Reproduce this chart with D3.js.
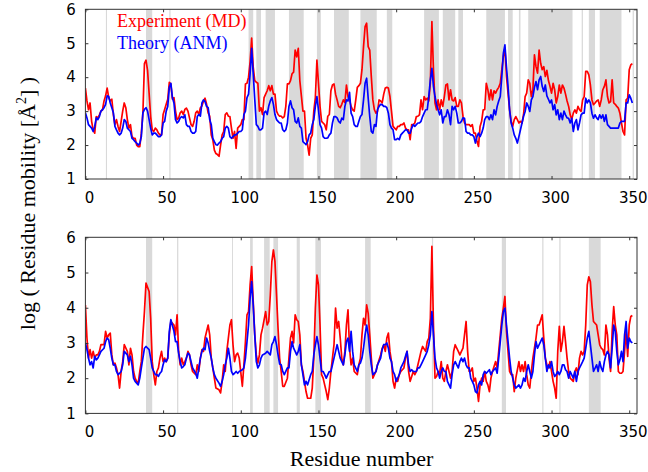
<!DOCTYPE html>
<html lang="en">
<head>
  <meta charset="UTF-8" />
  <title>Residue mobility: experiment vs theory</title>
  <script src="https://d3js.org/d3.v7.min.js"></script>
  <style>
    body {
      margin: 0;
      padding: 0;
      background-color: #fff;
    }

    svg {
      display: block;
    }

    .tick text {
      font-family: "DejaVu Sans", sans-serif;
      font-size: 15px;
      fill: #000;
    }

    .tick line {
      stroke: #333;
    }

    .title {
      font-family: "Liberation Serif", "Times New Roman", serif;
      font-size: 22px;
      fill: #000;
    }

    .legend {
      font-family: "Liberation Serif", "Times New Roman", serif;
      font-size: 18px;
    }
  </style>
</head>
<body>
  <svg width="648" height="472"></svg>

  <script>
    // x ticks / y ticks
    const xTicks = [0, 50, 100, 150, 200, 250, 300, 350];
    const yTicks = [1, 2, 3, 4, 5, 6];

    // grey bands, [first residue, last residue]
    const topBands = [
      [13.2, 13.9], [39, 43], [54, 54.8], [105, 108], [110, 113], [116, 122],
      [131, 140.5], [149, 151.5], [160, 169.5], [177, 187.5], [194, 197.5],
      [218, 227.5], [230, 238], [240, 243], [258, 270], [272, 275], [279, 280],
      [285, 313.5], [319.4, 320.2], [324, 328], [331, 345], [352.2, 353]
    ];
    const bottomBands = [
      [39, 43], [59, 59.8], [94.4, 95], [106, 107.7], [115, 118.6], [121, 124],
      [136, 138], [148, 151.6], [180, 183.6], [223, 223.8], [268, 270.7],
      [294, 294.8], [305, 305.8], [324, 331.6]
    ];

    // top panel, one value per residue (0..352)
    const topExperiment = [
      3.68, 3.3, 3.04, 3.24, 2.7, 2.45, 2.35, 2.84, 2.8, 2.89,
      3.0, 3.04, 3.3, 3.45, 3.68, 3.4, 3.3, 3.35, 2.9, 2.6,
      2.75, 2.55, 2.4, 2.7, 3.0, 3.24, 3.1, 2.75, 2.5, 2.6,
      2.25, 2.2, 2.2, 2.0, 1.95, 1.95, 2.35, 2.94, 4.4, 4.5,
      4.2, 3.53, 2.84, 2.45, 2.4, 2.5, 2.45, 2.35, 2.3, 2.3,
      2.9, 3.05, 3.2, 3.35, 3.85, 3.8, 3.35, 3.4, 3.0, 2.75,
      2.8, 2.95, 3.0, 2.9, 3.05, 3.09, 3.0, 2.8, 2.6, 2.55,
      2.7, 2.95, 3.0, 2.9, 3.1, 3.15, 3.3, 3.38, 3.2, 2.95,
      2.85, 2.3, 2.16, 1.85, 1.75, 1.72, 1.67, 2.0, 2.3, 2.4,
      2.9, 2.95, 2.85, 2.84, 2.5, 2.2, 2.4, 1.9, 2.5, 2.55,
      2.6, 2.75, 2.75, 3.8, 3.82, 4.0, 4.45, 5.15, 4.3, 3.9,
      3.85, 3.82, 3.0, 3.1, 2.9, 3.4, 3.5, 3.6, 3.75, 3.6,
      3.75, 3.5, 3.5, 3.0, 2.9, 2.85, 2.85, 2.8, 2.84, 3.15,
      3.8, 3.8, 3.9, 4.1, 4.15, 4.8, 4.6, 4.85, 3.9, 3.45,
      3.0, 3.0, 2.2, 2.0, 1.7, 2.2, 2.3, 3.0, 3.4, 4.5,
      3.82, 3.14, 2.7, 2.65, 2.6, 2.45, 2.85, 2.9, 3.6, 3.77,
      3.8, 3.5, 3.33, 3.14, 3.1, 3.2, 3.33, 3.25, 3.77, 3.43,
      3.33, 3.14, 3.04, 3.0, 3.33, 3.7, 3.75, 3.82, 4.22, 4.9,
      5.49, 5.59, 4.9, 4.8, 4.02, 3.33, 3.04, 2.94, 3.0, 3.33,
      3.3, 3.24, 3.5, 3.68, 3.7, 3.68, 3.43, 2.99, 2.55, 2.5,
      2.45, 2.55, 2.55, 2.6, 2.6, 2.65, 2.5, 2.45, 2.45, 2.16,
      2.6, 2.6, 2.65, 2.84, 2.85, 2.89, 3.33, 3.04, 3.43, 3.33,
      3.38, 3.3, 3.82, 5.64, 4.22, 3.24, 3.04, 3.33, 3.04, 3.33,
      3.14, 3.43, 3.77, 3.8, 3.33, 3.63, 3.33, 3.3, 3.4, 3.14,
      3.14, 3.33, 3.24, 2.85, 2.65, 2.6, 2.6, 2.6, 2.55, 2.6,
      2.35, 2.35, 2.11, 1.96, 2.55, 2.7, 3.04, 3.04, 3.82, 3.63,
      3.33, 3.63, 3.33, 3.6, 3.53, 3.63, 3.7, 3.82, 4.22, 4.61,
      4.85, 4.02, 3.53, 3.04, 2.7, 2.55, 2.75, 2.84, 2.75, 2.65,
      2.7, 2.65, 2.9, 3.43, 3.53, 3.92, 3.82, 3.43, 3.63, 4.66,
      4.31, 4.12, 4.8, 4.41, 4.22, 4.31, 4.02, 4.2, 3.9, 3.73,
      3.53, 3.82, 3.63, 3.24, 3.43, 3.77, 3.53, 3.77, 3.68, 3.5,
      3.3, 3.14, 2.89, 2.75, 2.94, 3.04, 2.94, 3.14, 3.04, 2.99,
      3.33, 3.43, 4.17, 4.17, 4.07, 3.77, 3.33, 3.19, 3.24, 3.3,
      3.33, 3.14, 3.33, 3.63, 3.73, 3.92, 3.43, 3.24, 3.28, 3.92,
      3.24, 3.2, 3.14, 3.09, 2.94, 2.65, 2.4, 2.3, 3.33, 3.38,
      4.22, 4.36, 4.4
    ];
    const topTheory = [
      2.95, 2.8, 2.6, 2.55, 2.5, 2.4, 2.55, 2.8, 2.75, 2.84,
      3.0, 3.04, 3.1, 3.2, 3.45, 3.43, 3.24, 3.1, 2.95, 2.55,
      2.45, 2.35, 2.3, 2.35, 2.5, 2.75, 2.7, 2.5, 2.45, 2.4,
      2.2, 2.16, 2.1, 2.06, 2.0, 2.05, 2.25, 2.95, 3.05, 3.1,
      3.0, 2.75, 2.5, 2.3, 2.35, 2.35, 2.3, 2.25, 2.25, 2.3,
      2.65, 2.7, 3.0, 3.14, 3.7, 3.82, 3.4, 3.24, 2.75, 2.65,
      2.7, 2.8, 2.84, 2.8, 2.89, 2.6, 2.55, 2.55, 2.4, 2.35,
      2.35, 2.4, 2.84, 2.9, 2.85, 3.24, 3.33, 3.28, 3.14, 3.1,
      2.75, 2.6, 2.2, 2.1, 2.01, 2.0, 2.06, 2.1, 2.2, 2.25,
      2.5, 2.55, 2.5, 2.25, 2.2, 2.25, 2.3, 2.3, 2.35, 2.4,
      2.4, 2.45, 2.9, 3.0, 3.4, 3.5, 4.1, 4.85, 4.1, 3.35,
      2.6, 2.55, 2.45, 2.45, 2.5, 2.95, 3.0, 2.9, 3.15, 3.3,
      3.4, 3.2, 2.9, 2.75, 2.7, 2.65, 2.65, 2.45, 2.4, 2.45,
      2.65, 3.14, 3.3, 3.1, 3.04, 2.7, 2.65, 2.8, 2.55, 2.5,
      2.1, 2.06, 2.01, 2.1, 2.3, 2.35, 2.6, 2.75, 3.14, 3.43,
      3.04, 2.6, 2.5, 2.25, 2.2, 2.2, 2.21, 2.3, 2.35, 2.65,
      2.84, 2.84, 2.8, 2.7, 2.65, 2.79, 2.75, 3.14, 3.33, 3.3,
      3.55, 2.94, 2.84, 2.6, 2.55, 2.55, 2.7, 2.84, 2.9, 3.33,
      3.82, 3.97, 3.38, 2.84, 2.4, 2.35, 2.6, 2.55, 3.04, 3.14,
      3.2, 3.19, 3.14, 3.14, 3.1, 2.94, 2.6, 2.5, 2.45, 2.16,
      2.16, 2.2, 2.16, 2.3, 2.35, 2.4, 2.45, 2.45, 2.35, 2.35,
      2.5, 2.6, 2.55, 2.6, 2.65, 2.65, 2.7, 2.84, 2.94, 3.04,
      3.04, 3.43, 3.92, 4.26, 3.73, 3.43, 3.19, 3.04, 2.89, 3.04,
      2.65, 2.84, 2.84, 3.04, 2.9, 2.6, 3.14, 3.04, 3.14, 2.94,
      2.65, 2.65, 2.7, 2.8, 2.79, 2.4, 2.35, 2.35, 2.3, 2.3,
      2.25, 2.06, 2.25, 2.35, 2.25, 2.35, 2.5, 2.75, 2.84, 2.84,
      2.75, 2.89, 2.75, 3.04, 2.89, 3.14, 3.3, 3.43, 4.02, 4.71,
      4.95, 4.3, 3.73, 3.04, 2.65, 2.5, 2.3, 2.2, 2.06, 2.25,
      2.45, 2.65, 2.85, 2.99, 3.24, 3.14, 2.99, 3.33, 3.43, 3.7,
      3.87, 3.63, 3.92, 4.02, 3.73, 3.58, 3.77, 3.45, 3.35, 3.24,
      3.33, 3.04, 3.19, 2.89, 3.04, 2.75, 2.94, 2.75, 3.0, 2.89,
      2.8, 2.79, 2.65, 2.79, 2.4, 2.65, 2.75, 2.45, 2.65, 2.89,
      2.94, 2.94, 3.38, 3.24, 3.33, 3.24, 2.94, 2.79, 2.89, 2.8,
      2.75, 2.89, 2.79, 2.89, 2.7, 2.89, 2.6, 2.55, 2.5, 2.5,
      2.5, 2.5, 2.5, 2.5, 2.65, 2.7, 2.7, 2.7, 3.24, 3.24,
      3.48, 3.38, 3.24
    ];

    // bottom panel, read at these residues
    const bottomResidues = [
      0, 1, 2, 3, 4, 5, 6, 7, 8, 9, 10, 12, 13, 14, 15, 16, 17, 18, 19, 20,
      21, 22, 23, 24, 25, 27, 28, 29, 30, 31, 32, 33, 34, 35, 36, 37, 38, 39, 41, 42,
      43, 44, 45, 46, 47, 48, 49, 50, 51, 52, 53, 54, 55, 57, 58, 59, 60, 61, 62, 63,
      64, 65, 66, 67, 68, 69, 71, 72, 73, 74, 75, 76, 77, 78, 79, 80, 81, 82, 83, 84,
      86, 87, 88, 89, 90, 91, 92, 93, 94, 95, 96, 97, 98, 99, 101, 102, 103, 104, 105, 106,
      107, 108, 109, 110, 111, 112, 113, 114, 116, 117, 118, 119, 120, 121, 122, 123, 124, 125, 126, 127,
      128, 130, 131, 132, 133, 134, 135, 136, 137, 138, 139, 140, 141, 142, 143, 145, 146, 147, 148, 149,
      150, 151, 152, 153, 154, 155, 156, 157, 158, 160, 161, 162, 163, 164, 165, 166, 167, 168, 169, 170,
      171, 172, 173, 175, 176, 177, 178, 179, 180, 181, 182, 183, 184, 185, 186, 187, 188, 190, 191, 192,
      193, 194, 195, 196, 197, 198, 199, 200, 201, 202, 203, 205, 206, 207, 208, 209, 210, 211, 212, 213,
      214, 215, 216, 217, 219, 220, 221, 222, 223, 224, 225, 226, 227, 228, 229, 230, 231, 232, 233, 235,
      236, 237, 238, 239, 240, 241, 242, 243, 244, 245, 246, 247, 248, 249, 250, 251, 252, 253, 254, 255,
      256, 257, 258, 259, 260, 261, 262, 264, 265, 266, 267, 268, 269, 270, 271, 272, 273, 274, 275, 276,
      277, 279, 280, 281, 282, 283, 284, 285, 286, 287, 288, 289, 290, 291, 292, 294, 295, 296, 297, 298,
      299, 300, 301, 302, 303, 304, 305, 306, 307, 308, 309, 310, 311, 312, 314, 315, 316, 317, 318, 319,
      320, 321, 322, 323, 324, 325, 326, 327, 329, 330, 331, 332, 333, 334, 335, 336, 337, 338, 339, 340,
      341, 342, 343, 344, 345, 346, 347, 348, 349, 350, 351, 352
    ];
    const bottomExperiment = [
      4.08, 3.14, 2.57, 2.81, 2.57, 2.76, 2.57, 2.66, 2.66, 2.76, 2.95, 2.95, 3.33, 3.14, 3.23, 3.28, 2.66, 2.38, 2.43, 2.29,
      2.1, 1.72, 2.19, 2.47, 2.95, 2.76, 2.38, 2.85, 2.66, 2.19, 2.0, 1.91, 1.86, 2.19, 2.47, 3.23, 3.89, 4.7, 4.46, 3.7,
      2.47, 2.1, 1.81, 2.19, 2.29, 2.57, 2.76, 2.47, 2.57, 2.47, 2.57, 3.23, 3.61, 3.51, 3.23, 3.8, 2.76, 2.38, 2.57, 2.38,
      2.47, 2.57, 2.76, 2.66, 2.38, 2.19, 2.1, 2.38, 2.19, 2.57, 2.81, 2.76, 3.14, 3.33, 3.51, 3.23, 2.57, 2.29, 2.0, 1.72,
      1.67, 1.58, 1.91, 2.38, 2.19, 2.76, 3.14, 3.51, 3.66, 2.95, 2.47, 2.66, 2.71, 2.57, 1.77, 2.38, 3.04, 3.8, 3.89, 4.65,
      5.17, 4.18, 3.23, 2.66, 2.43, 2.66, 3.23, 3.42, 3.89, 3.51, 3.61, 4.36, 5.31, 5.64, 5.31, 4.36, 3.4, 2.57, 2.19, 1.77,
      1.77, 2.0, 2.57, 3.14, 3.33, 3.0, 3.8, 3.66, 3.61, 3.23, 2.38, 2.19, 1.91, 1.62, 1.43, 1.43, 1.72, 2.57, 3.99, 4.93,
      4.65, 3.51, 2.1, 2.0, 1.81, 1.62, 1.39, 1.72, 2.19, 2.95, 3.99, 3.42, 3.61, 3.14, 2.57, 2.38, 2.76, 3.51, 3.94, 2.85,
      2.38, 2.57, 2.19, 2.1, 2.38, 2.57, 3.23, 3.7, 3.51, 4.08, 3.84, 3.23, 2.57, 2.0, 2.1, 2.19, 2.38, 2.66, 2.85, 2.95,
      2.76, 3.14, 3.28, 2.76, 2.47, 1.91, 1.72, 2.0, 1.91, 2.1, 2.19, 2.29, 2.57, 2.76, 2.19, 1.91, 2.05, 2.19, 2.1, 2.19,
      2.38, 2.57, 2.76, 2.9, 2.76, 3.04, 3.14, 3.7, 5.74, 3.51, 2.0, 2.05, 2.19, 2.14, 2.47, 2.0, 1.91, 2.19, 2.38, 2.0,
      2.19, 2.76, 2.95, 2.85, 2.76, 2.66, 2.76, 2.85, 3.23, 3.61, 2.76, 2.19, 2.2, 2.29, 1.91, 2.0, 1.72, 1.34, 1.81, 2.0,
      1.91, 2.19, 1.91, 1.81, 1.62, 2.0, 2.19, 2.47, 2.29, 2.76, 3.23, 3.7, 3.99, 4.32, 3.33, 2.76, 2.19, 2.1, 2.1, 1.62,
      2.0, 2.47, 2.19, 2.38, 2.19, 2.47, 2.1, 1.81, 1.72, 2.19, 2.57, 2.85, 3.14, 3.51, 3.51, 3.8, 3.14, 2.57, 2.38, 2.29,
      2.47, 2.19, 1.91, 1.72, 1.43, 2.76, 3.47, 2.76, 3.04, 3.47, 3.04, 2.57, 2.19, 2.0, 1.91, 2.19, 2.29, 2.1, 2.57, 2.76,
      2.66, 2.76, 3.51, 4.65, 4.88, 4.74, 4.08, 3.61, 3.51, 3.23, 2.95, 2.85, 2.81, 2.66, 3.51, 3.23, 2.57, 2.19, 3.33, 4.03,
      3.51, 3.23, 2.19, 2.14, 2.14, 2.19, 2.76, 3.33, 2.62, 3.51, 3.75, 3.78
    ];
    const bottomTheory = [
      3.0, 2.81, 2.57, 2.38, 2.47, 2.29, 2.62, 2.52, 2.57, 2.66, 2.76, 2.85, 3.04, 3.14, 3.09, 2.85, 2.57, 2.38, 2.38, 2.19,
      2.1, 2.14, 2.19, 2.38, 2.76, 2.66, 2.47, 2.62, 2.38, 2.0, 1.91, 1.86, 1.81, 2.0, 2.29, 2.57, 2.85, 2.9, 2.81, 2.57,
      2.29, 2.19, 2.1, 2.1, 2.05, 2.14, 2.19, 2.38, 2.52, 2.47, 2.57, 3.33, 3.66, 3.33, 3.04, 3.04, 2.71, 2.47, 2.29, 2.33,
      2.38, 2.57, 2.71, 2.66, 2.47, 2.29, 2.14, 2.0, 2.29, 2.57, 2.76, 2.85, 2.81, 3.14, 3.0, 2.76, 2.57, 2.29, 2.1, 2.0,
      1.86, 1.77, 1.91, 2.1, 2.38, 2.57, 2.85, 2.57, 2.19, 2.1, 2.14, 2.19, 2.14, 2.19, 2.24, 2.29, 2.57, 3.04, 3.51, 4.27,
      4.74, 4.08, 3.23, 2.47, 2.29, 2.38, 2.57, 2.66, 2.71, 2.76, 2.71, 2.66, 2.95, 3.04, 3.18, 2.95, 2.66, 2.4, 2.38, 2.19,
      2.1, 2.29, 2.29, 2.76, 3.04, 2.85, 2.76, 2.66, 2.76, 2.95, 2.38, 2.1, 1.81, 1.91, 1.81, 2.1, 2.19, 2.66, 2.95, 3.18,
      2.95, 2.57, 2.19, 2.19, 2.1, 2.0, 2.1, 2.19, 2.19, 2.57, 2.76, 2.95, 2.76, 2.57, 2.47, 2.38, 2.66, 3.04, 3.14, 2.76,
      3.33, 2.76, 2.38, 2.19, 2.38, 2.43, 2.57, 2.85, 3.23, 3.51, 3.23, 2.76, 2.38, 2.1, 2.14, 2.19, 2.38, 2.57, 2.81, 2.95,
      2.95, 3.0, 2.85, 2.57, 2.47, 2.19, 2.1, 1.91, 2.0, 2.1, 2.29, 2.47, 2.62, 2.76, 2.38, 2.19, 2.24, 2.19, 2.19, 2.19,
      2.29, 2.29, 2.38, 2.47, 2.66, 2.76, 2.95, 3.23, 3.89, 3.23, 2.57, 2.29, 2.19, 2.0, 2.19, 2.29, 2.19, 2.19, 1.91, 1.72,
      2.1, 2.38, 2.47, 2.38, 2.29, 2.47, 2.57, 2.47, 2.57, 2.38, 2.29, 2.29, 2.0, 1.91, 1.81, 1.62, 1.58, 1.81, 1.91, 1.81,
      2.1, 2.19, 2.14, 2.19, 2.24, 2.1, 2.19, 2.29, 2.14, 2.57, 3.04, 3.51, 3.89, 3.99, 3.51, 3.04, 2.57, 2.19, 2.0, 1.81,
      1.72, 1.81, 1.72, 1.81, 2.0, 1.91, 2.19, 2.38, 2.19, 2.0, 2.19, 2.66, 3.04, 2.85, 2.95, 3.14, 2.95, 2.57, 2.19, 2.38,
      2.29, 2.47, 2.19, 2.05, 2.1, 2.19, 2.1, 2.19, 2.38, 2.38, 2.24, 2.19, 2.0, 2.19, 2.0, 2.19, 1.91, 2.19, 2.29, 2.38,
      2.47, 2.57, 2.85, 3.14, 3.33, 2.95, 2.57, 2.19, 2.38, 2.19, 2.47, 2.29, 2.19, 2.47, 2.66, 2.76, 2.66, 2.29, 2.85, 3.51,
      3.33, 2.76, 2.38, 2.52, 2.76, 2.47, 3.23, 3.61, 2.85, 3.14, 3.04, 3.0
    ];

    const svg = d3.select("svg");

    const x = d3.scaleLinear().domain([0, 355]).range([85.4, 637]);

    const panels = [
      {
        name: "top", y0: 9.3, y1: 179, bands: topBands,
        residues: topExperiment.map((d, i) => i),
        experiment: topExperiment, theory: topTheory
      },
      {
        name: "bottom", y0: 237.3, y1: 413.4, bands: bottomBands,
        residues: bottomResidues,
        experiment: bottomExperiment, theory: bottomTheory
      }
    ];

    panels.forEach(p => {
      const y = d3.scaleLinear().domain([1, 6]).range([p.y1, p.y0]);
      const g = svg.append("g");

      g.append("clipPath").attr("id", "clip-" + p.name)
        .append("rect")
        .attr("x", x(0)).attr("y", p.y0)
        .attr("width", x(355) - x(0)).attr("height", p.y1 - p.y0);

      const inner = g.append("g").attr("clip-path", `url(#clip-${p.name})`);

      inner.selectAll("rect.band")
        .data(p.bands)
        .enter().append("rect")
        .attr("class", "band")
        .attr("x", d => x(d[0]))
        .attr("width", d => x(d[1]) - x(d[0]))
        .attr("y", p.y0)
        .attr("height", p.y1 - p.y0)
        .attr("fill", "#d9d9d9");

      const line = series => d3.line()
        .x((d, i) => x(p.residues[i]))
        .y(d => y(d))(series);

      inner.append("path")
        .attr("d", line(p.experiment))
        .attr("fill", "none")
        .attr("stroke", "#ff0000")
        .attr("stroke-width", 1.7)
        .attr("stroke-linejoin", "round");

      inner.append("path")
        .attr("d", line(p.theory))
        .attr("fill", "none")
        .attr("stroke", "#0000ff")
        .attr("stroke-width", 1.7)
        .attr("stroke-linejoin", "round");

      // axes, ticks pointing inward on all four sides
      g.append("g")
        .attr("transform", `translate(0,${p.y1})`)
        .call(d3.axisBottom(x).tickValues(xTicks).tickSize(-3).tickSizeOuter(0).tickPadding(13))
        .call(a => a.select(".domain").remove())
        .call(a => a.selectAll("text").attr("dx", 3.5));

      g.append("g")
        .attr("transform", `translate(0,${p.y0})`)
        .call(d3.axisTop(x).tickValues(xTicks).tickSize(-3).tickSizeOuter(0).tickFormat(""))
        .call(a => a.select(".domain").remove());

      g.append("g")
        .attr("transform", `translate(${x(0)},0)`)
        .call(d3.axisLeft(y).tickValues(yTicks).tickFormat(d3.format("d"))
          .tickSize(-3).tickSizeOuter(0).tickPadding(9.5))
        .call(a => a.select(".domain").remove());

      g.append("g")
        .attr("transform", `translate(${x(355)},0)`)
        .call(d3.axisRight(y).tickValues(yTicks).tickSize(-3).tickSizeOuter(0).tickFormat(""))
        .call(a => a.select(".domain").remove());

      g.append("rect")
        .attr("x", x(0)).attr("y", p.y0)
        .attr("width", x(355) - x(0)).attr("height", p.y1 - p.y0)
        .attr("fill", "none")
        .attr("stroke", "#333")
        .attr("stroke-width", 1);
    });

    // legend
    svg.append("text").attr("class", "legend")
      .attr("x", 117).attr("y", 26.7)
      .attr("fill", "#ff0000")
      .text("Experiment (MD)");
    svg.append("text").attr("class", "legend")
      .attr("x", 117).attr("y", 49.3)
      .attr("fill", "#0000ff")
      .text("Theory (ANM)");

    // axis titles
    svg.append("text").attr("class", "title")
      .attr("x", 361.5).attr("y", 465.7)
      .attr("text-anchor", "middle")
      .text("Residue number");

    const yTitle = svg.append("text").attr("class", "title")
      .attr("transform", "translate(35,203.5) rotate(-90)")
      .attr("text-anchor", "middle");
    yTitle.append("tspan").text("log ( Residue mobility [Å");
    yTitle.append("tspan").attr("font-size", "14px").attr("dy", -9).text("2");
    yTitle.append("tspan").attr("dy", 9).text("] )");
  </script>
</body>
</html>
